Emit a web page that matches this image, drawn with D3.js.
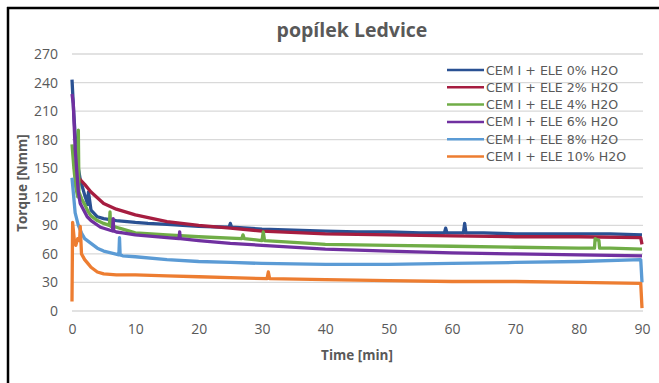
<!DOCTYPE html>
<html>
<head>
  <meta charset="utf-8">
  <script src="https://d3js.org/d3.v7.min.js"></script>
  <style>
    body { margin: 0; background: #fff; }
    text { font-family: "Open Sans", sans-serif; fill: #595959; }
    .legend text { font-family: "DejaVu Sans", sans-serif; }
  </style>
</head>
<body>
<svg width="659" height="383"></svg>
<script>
  // values
  var seriesNames = ["CEM I + ELE 0% H2O", "CEM I + ELE 2% H2O", "CEM I + ELE 4% H2O",
                     "CEM I + ELE 6% H2O", "CEM I + ELE 8% H2O", "CEM I + ELE 10% H2O"];
  var seriesColors = ["#2a5193", "#a61d40", "#70ad47", "#7030a0", "#5b9bd5", "#ed7d31"];

  var t0 = [0, 0.3, 0.6, 1.0, 1.3, 2.0, 2.5, 2.6, 3, 4, 5, 7, 10, 12, 15, 20, 24.8, 25, 25.2, 30, 35, 40, 45, 50, 55, 58.8, 59, 59.2, 61.8, 62, 62.2, 65, 70, 75, 80, 85, 90];
  var v0 = [243, 205, 175, 150, 138, 122, 112, 125, 106, 99, 97, 95, 93, 92, 91, 89, 88, 92, 88, 86, 85, 84, 83, 83, 82, 82, 87, 82, 82, 92, 82, 82, 81, 81, 81, 81, 80];

  var t2 = [0.5, 1, 2, 3, 5, 7, 10, 15, 20, 25, 30, 40, 50, 60, 70, 80, 89.8, 90];
  var v2 = [150, 140, 133, 125, 113, 107, 101, 94, 90, 87, 84, 81, 80, 79, 78, 78, 77, 70];

  var t4 = [0, 0.3, 0.6, 0.9, 1.0, 1.1, 1.5, 2, 2.5, 3, 4, 5, 5.9, 6.0, 6.1, 7, 8, 10, 15, 20, 26.8, 27, 27.2, 30, 30.2, 30.4, 35, 40, 50, 60, 70, 80, 82.5, 82.6, 83.2, 83.3, 85, 90];
  var v4 = [175, 150, 130, 120, 190, 125, 118, 112, 105, 100, 95, 92, 90, 104, 89, 88, 86, 82, 80, 78, 76, 80, 76, 74, 83, 74, 72, 70, 69, 68, 67, 66, 66, 76, 74, 66, 66, 65];

  var t6 = [0, 0.2, 0.5, 1, 1.3, 2.4, 3, 4.5, 6.4, 6.5, 6.6, 7, 8, 10, 15, 16.9, 17, 17.1, 20, 25, 30, 40, 50, 60, 70, 80, 90];
  var v6 = [228, 218, 170, 125, 113, 99, 95, 88, 84, 97, 84, 83, 82, 80, 77, 76, 83, 76, 74, 71, 69, 65, 63, 61, 60, 59, 58];

  var t8 = [0, 0.5, 1, 1.5, 2, 3, 4, 5, 7.4, 7.5, 7.6, 8, 10, 15, 20, 25, 30, 40, 50, 60, 70, 80, 89.8, 90];
  var v8 = [140, 103, 90, 82, 76, 71, 66, 63, 59, 77, 59, 58, 57, 54, 52, 51, 50, 49, 49, 50, 51, 52, 54, 30];

  var t10 = [0, 0.1, 0.4, 0.6, 0.9, 1.2, 1.3, 1.5, 2, 2.5, 3, 4, 5, 7, 10, 15, 20, 25, 30.8, 31, 31.2, 40, 50, 60, 70, 80, 89.8, 90];
  var v10 = [10, 93, 72, 69, 76, 74, 89, 60, 54, 50, 46, 41, 39, 38, 38, 37, 36, 35, 34, 41, 34, 33, 32, 31, 31, 30, 29, 3];

  var xTicks = [0, 10, 20, 30, 40, 50, 60, 70, 80, 90];
  var yTicks = [0, 30, 60, 90, 120, 150, 180, 210, 240, 270];

  var times = [t0, t2, t4, t6, t8, t10];
  var values = [v0, v2, v4, v6, v8, v10];

  var svg = d3.select("svg");

  // frame of the cropped chart area
  svg.append("line").attr("x1", 7).attr("x2", 659).attr("y1", 8).attr("y2", 8)
    .attr("stroke", "#000").attr("stroke-width", 2.5);
  svg.append("line").attr("x1", 8).attr("x2", 8).attr("y1", 7).attr("y2", 383)
    .attr("stroke", "#000").attr("stroke-width", 2.5);

  var x = d3.scaleLinear().domain([0, 90]).range([72, 642]);
  var y = d3.scaleLinear().domain([0, 270]).range([311, 54]);

  // grid
  svg.append("g").selectAll("line").data(yTicks).join("line")
    .attr("x1", 72).attr("x2", 643)
    .attr("y1", d => y(d)).attr("y2", d => y(d))
    .attr("stroke", "#d9d9d9").attr("stroke-width", 1.3);

  var yAxis = svg.append("g").attr("transform", "translate(72,0)")
    .call(d3.axisLeft(y).tickValues(yTicks).tickSize(0).tickPadding(14));
  yAxis.select(".domain").remove();
  yAxis.selectAll("text").style("font-size", "14px").attr("fill", "#595959");

  var xAxis = svg.append("g").attr("transform", "translate(0,311)")
    .call(d3.axisBottom(x).tickValues(xTicks).tickSize(0).tickPadding(13));
  xAxis.select(".domain").remove();
  xAxis.selectAll("text").style("font-size", "14px").attr("fill", "#595959");

  var line = d3.line().x(d => x(d[0])).y(d => y(d[1]));

  svg.append("g").selectAll("path").data(d3.range(6)).join("path")
    .attr("d", i => line(times[i].map((t, j) => [t, values[i][j]])))
    .attr("fill", "none")
    .attr("stroke", i => seriesColors[i])
    .attr("stroke-width", 3.3)
    .attr("stroke-linejoin", "round");

  // titles
  svg.append("text").attr("x", 352).attr("y", 37).attr("text-anchor", "middle")
    .style("font-size", "19.5px").style("font-weight", "bold").text("popílek Ledvice");
  svg.append("text").attr("x", 357).attr("y", 360).attr("text-anchor", "middle")
    .style("font-size", "13.5px").style("font-weight", "bold").text("Time [min]");
  svg.append("text").attr("transform", "translate(27,183) rotate(-90)").attr("text-anchor", "middle")
    .style("font-size", "13.5px").style("font-weight", "bold").text("Torque [Nmm]");

  // legend
  var legend = svg.append("g").attr("class", "legend").selectAll("g").data(seriesNames).join("g")
    .attr("transform", (d, i) => "translate(447," + (70 + i * 17.3) + ")");
  legend.append("line").attr("x1", 0).attr("x2", 37)
    .attr("stroke", (d, i) => seriesColors[i]).attr("stroke-width", 2.5);
  legend.append("text").attr("x", 39).attr("dy", "0.36em")
    .style("font-size", "12.6px").text(d => d);
</script>
</body>
</html>
